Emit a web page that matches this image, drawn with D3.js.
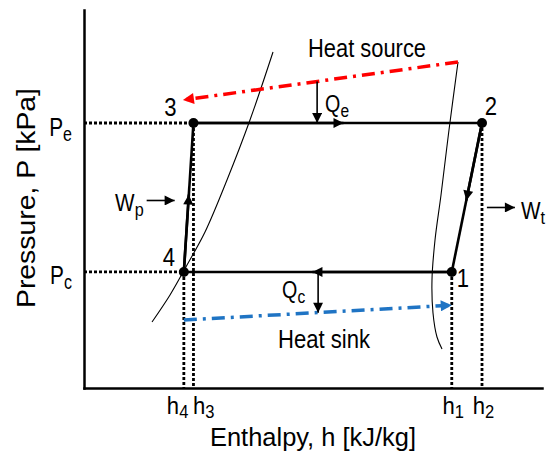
<!DOCTYPE html>
<html>
<head>
<meta charset="utf-8">
<script src="https://cdn.jsdelivr.net/npm/d3@7"></script>
<style>
  body { margin: 0; background: #fff; }
  text { font-family: Arial, "Liberation Sans", sans-serif; fill: #000; }
</style>
</head>
<body>
<div id="chart"></div>
<script>
// state points of the cycle (h in relative units, P in relative units)
const stateNames = ["1", "2", "3", "4"];
const stateH = [80.3, 86.9, 23.9, 21.8];
const stateP = [30.7, 70.1, 70.1, 30.7];
// processes, as pairs of state names (from -> to)
const processes = [["4", "3"], ["3", "2"], ["2", "1"], ["1", "4"]];

// saturated liquid / vapour lines
const liqH = [14.85, 18.78, 22.49, 26.42, 31.22, 36.24, 41.27];
const liqP = [17.46, 24.60, 32.54, 41.27, 55.03, 70.90, 88.89];
const vapH = [81.66, 79.69, 77.95, 76.64, 75.98, 76.20, 77.07, 78.17];
const vapP = [86.24, 68.25, 51.06, 39.15, 28.57, 19.84, 13.49, 10.32];

// heat source / heat sink streams
const sourceH = [81.66, 21.6];
const sourceP = [86.24, 76.2];
const sinkH = [21.8, 80.3];
const sinkP = [18.0, 21.9];
const heatH = 50.9; // where Qe and Qc are drawn

// axis ticks
const hTicks = [21.8, 23.9, 80.3, 86.9];
const hTickLabels = [["h", "4"], ["h", "3"], ["h", "1"], ["h", "2"]];
const pTicks = [70.1, 30.7];
const pTickLabels = [["P", "e"], ["P", "c"]];

const width = 555, height = 451;

var svg = d3.select("#chart").append("svg")
    .attr("width", width)
    .attr("height", height);

var x = d3.scaleLinear().domain([0, 100]).range([84, 542]);
var y = d3.scaleLinear().domain([0, 100]).range([388, 10]);

var defs = svg.append("defs");
function marker(id, color, w, h) {
  defs.append("marker")
      .attr("id", id)
      .attr("viewBox", "0 0 10 10")
      .attr("refX", 10).attr("refY", 5)
      .attr("markerUnits", "userSpaceOnUse")
      .attr("markerWidth", w).attr("markerHeight", h)
      .attr("orient", "auto")
    .append("path")
      .attr("d", "M0,0L10,5L0,10z")
      .attr("fill", color);
}
marker("arrBlack", "#000", 13, 10);
marker("arrRed", "#ff0000", 15, 11);
marker("arrBlue", "#1f74c4", 15, 11);

var pt = {};
stateNames.forEach((n, i) => pt[n] = {h: stateH[i], p: stateP[i]});

// text with a subscript, squeezed a little sideways like the original font
function subLabel(parent, px, py, main, sub, opt) {
  opt = opt || {};
  var g = parent.append("g")
      .attr("transform", "translate(" + px + "," + py + ") scale(" + (opt.sx || 0.88) + ",1)");
  var t = g.append("text")
      .attr("font-size", opt.size || 24)
      .attr("text-anchor", opt.anchor || "start");
  t.append("tspan").text(main);
  t.append("tspan").attr("font-size", opt.sub || 18).attr("dy", opt.dy || 5).text(sub);
  return t;
}

/*
 * axes
 */
var xAxis = svg.append("g")
    .attr("transform", "translate(0," + y(0) + ")")
    .call(d3.axisBottom(x).tickValues(hTicks).tickSize(0).tickSizeOuter(0).tickFormat(""));
var yAxis = svg.append("g")
    .attr("transform", "translate(" + x(0) + ",0)")
    .call(d3.axisLeft(y).tickValues(pTicks).tickSize(0).tickSizeOuter(0).tickFormat(""));
svg.selectAll(".domain").attr("stroke", "#000").attr("stroke-width", 2.5).attr("stroke-linecap", "square");
svg.selectAll(".tick text").remove();

xAxis.selectAll(".tick").each(function(d, i) {
  var anchor = i == 0 ? "end" : i == 1 ? "start" : "middle";
  var dx = i == 0 ? 4 : i == 1 ? -1 : 1;
  subLabel(d3.select(this), dx, 26, hTickLabels[i][0], hTickLabels[i][1],
           {size: 24, sub: 18, anchor: anchor, sx: 0.92, dy: 4});
});
yAxis.selectAll(".tick").each(function(d, i) {
  subLabel(d3.select(this), -12, 12, pTickLabels[i][0], pTickLabels[i][1],
           {size: 26, sub: 20, anchor: "end", sx: 0.8, dy: 5});
});

svg.append("text")
    .attr("transform", "translate(35," + 198 + ") rotate(-90)")
    .attr("text-anchor", "middle")
    .attr("font-size", 25)
    .attr("textLength", 220)
    .attr("lengthAdjust", "spacingAndGlyphs")
    .text("Pressure, P [kPa]");
svg.append("text")
    .attr("x", 313).attr("y", 446)
    .attr("text-anchor", "middle")
    .attr("font-size", 25)
    .attr("textLength", 206)
    .attr("lengthAdjust", "spacingAndGlyphs")
    .text("Enthalpy, h [kJ/kg]");

/*
 * dotted guides
 */
var guides = svg.append("g")
    .attr("stroke", "#000").attr("stroke-width", 2.8)
    .attr("stroke-dasharray", "3,2").attr("fill", "none");
[pt["3"], pt["4"]].forEach(s => {
  guides.append("line")
      .attr("x1", x(0)).attr("x2", x(s.h))
      .attr("y1", y(s.p)).attr("y2", y(s.p));
});
stateNames.forEach(n => {
  var s = pt[n];
  guides.append("line")
      .attr("x1", x(s.h)).attr("x2", x(s.h))
      .attr("y1", y(s.p)).attr("y2", y(0));
});

/*
 * saturation curves
 */
var curve = d3.line().x(d => x(d[0])).y(d => y(d[1])).curve(d3.curveCatmullRom);
svg.append("path")
    .attr("d", curve(d3.zip(liqH, liqP)))
    .attr("fill", "none").attr("stroke", "#000").attr("stroke-width", 1.1);
svg.append("path")
    .attr("d", curve(d3.zip(vapH, vapP)))
    .attr("fill", "none").attr("stroke", "#000").attr("stroke-width", 1.1);

/*
 * heat source and heat sink
 */
svg.append("line")
    .attr("x1", x(sourceH[0])).attr("y1", y(sourceP[0]))
    .attr("x2", x(sourceH[1])).attr("y2", y(sourceP[1]))
    .attr("stroke", "#ff0000").attr("stroke-width", 3.5)
    .attr("stroke-dasharray", "13,6,3,6")
    .attr("marker-end", "url(#arrRed)");
svg.append("line")
    .attr("x1", x(sinkH[0])).attr("y1", y(sinkP[0]))
    .attr("x2", x(sinkH[1])).attr("y2", y(sinkP[1]))
    .attr("stroke", "#1f74c4").attr("stroke-width", 3.5)
    .attr("stroke-dasharray", "13,6,3,6")
    .attr("marker-end", "url(#arrBlue)");

var onSource = d3.scaleLinear().domain(sourceH).range(sourceP);
var onSink = d3.scaleLinear().domain(sinkH).range(sinkP);

// Qe and Qc
svg.append("line")
    .attr("x1", x(heatH)).attr("x2", x(heatH))
    .attr("y1", y(onSource(heatH))).attr("y2", y(pt["3"].p))
    .attr("stroke", "#000").attr("stroke-width", 1.6)
    .attr("marker-end", "url(#arrBlack)");
svg.append("line")
    .attr("x1", x(heatH) + 1).attr("x2", x(heatH) + 1)
    .attr("y1", y(pt["1"].p)).attr("y2", y(onSink(heatH)))
    .attr("stroke", "#000").attr("stroke-width", 1.6)
    .attr("marker-end", "url(#arrBlack)");

subLabel(svg, x(heatH) + 8, y(pt["3"].p) - 11, "Q", "e", {size: 24, sub: 19, sx: 0.82});
subLabel(svg, x(heatH) - 35, y(pt["1"].p) + 26, "Q", "c", {size: 24, sub: 19, sx: 0.82});

svg.append("text")
    .attr("x", 367).attr("y", 57)
    .attr("text-anchor", "middle").attr("font-size", 25)
    .attr("textLength", 118).attr("lengthAdjust", "spacingAndGlyphs")
    .text("Heat source");
svg.append("text")
    .attr("x", 324).attr("y", 348)
    .attr("text-anchor", "middle").attr("font-size", 25)
    .attr("textLength", 92).attr("lengthAdjust", "spacingAndGlyphs")
    .text("Heat sink");

/*
 * cycle processes
 */
var proc = svg.append("g").attr("stroke", "#000").attr("stroke-width", 2.6);
processes.forEach(pr => {
  var a = pt[pr[0]], b = pt[pr[1]];
  proc.append("line")
      .attr("x1", x(a.h)).attr("y1", y(a.p))
      .attr("x2", x(b.h)).attr("y2", y(b.p));
  var f = 0.52;
  proc.append("line")
      .attr("x1", x(a.h)).attr("y1", y(a.p))
      .attr("x2", x(a.h + (b.h - a.h) * f)).attr("y2", y(a.p + (b.p - a.p) * f))
      .attr("marker-end", "url(#arrBlack)");
});

svg.selectAll("circle.state")
    .data(stateNames)
  .enter().append("circle")
    .attr("class", "state")
    .attr("cx", n => x(pt[n].h))
    .attr("cy", n => y(pt[n].p))
    .attr("r", 5)
    .attr("fill", "#000");

var offs = {"1": [11, 15], "2": [9, -8], "3": [-23, -7], "4": [-15, -6]};
svg.selectAll("g.state")
    .data(stateNames)
  .enter().append("g")
    .attr("class", "state")
    .attr("transform", n => "translate(" + (x(pt[n].h) + offs[n][0]) + "," + (y(pt[n].p) + offs[n][1]) + ") scale(0.85,1)")
  .append("text")
    .attr("text-anchor", "middle")
    .attr("font-size", 26)
    .text(n => n);

// work arrows (pump in, turbine out)
var mp = {h: (pt["4"].h + pt["3"].h) / 2, p: (pt["4"].p + pt["3"].p) / 2};
var mt = {h: (pt["2"].h + pt["1"].h) / 2, p: (pt["2"].p + pt["1"].p) / 2};
svg.append("line")
    .attr("x1", x(mp.h) - 42).attr("x2", x(mp.h) - 14)
    .attr("y1", y(mp.p) + 3).attr("y2", y(mp.p) + 3)
    .attr("stroke", "#000").attr("stroke-width", 1.6)
    .attr("marker-end", "url(#arrBlack)");
subLabel(svg, x(mp.h) - 45, y(mp.p) + 14, "W", "p", {size: 23, sub: 18, sx: 0.9, anchor: "end"});
svg.append("line")
    .attr("x1", x(mt.h) + 20).attr("x2", x(mt.h) + 48)
    .attr("y1", y(mt.p) + 10).attr("y2", y(mt.p) + 10)
    .attr("stroke", "#000").attr("stroke-width", 1.6)
    .attr("marker-end", "url(#arrBlack)");
subLabel(svg, x(mt.h) + 54, y(mt.p) + 22, "W", "t", {size: 23, sub: 18, sx: 0.9});
</script>
</body>
</html>
